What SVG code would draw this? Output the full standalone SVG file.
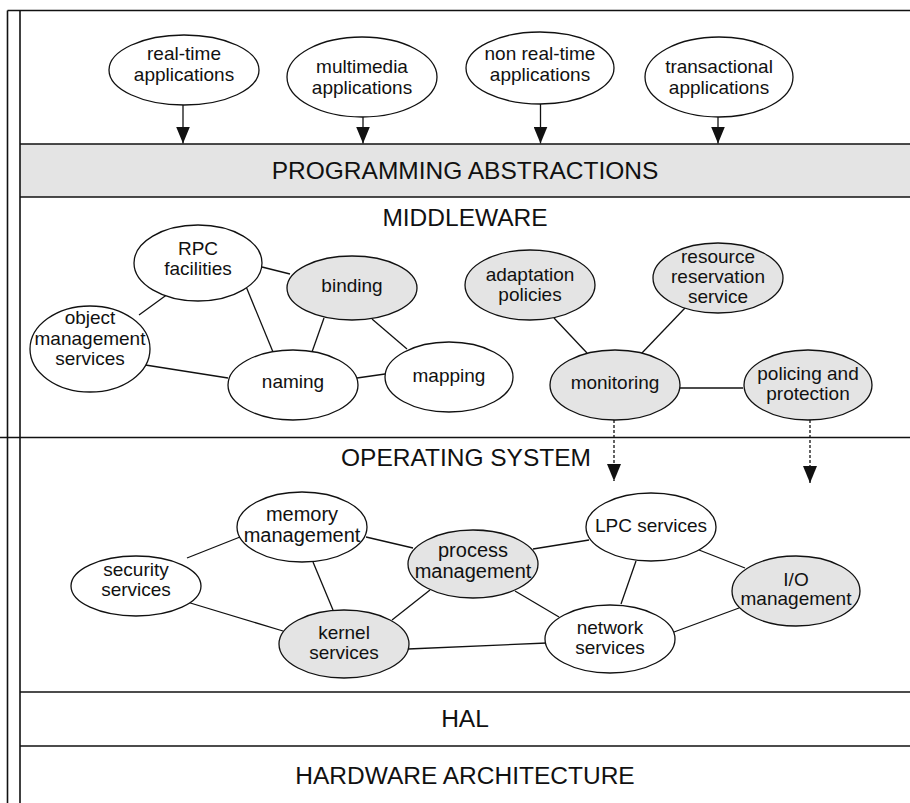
<svg xmlns="http://www.w3.org/2000/svg" width="910" height="803" viewBox="0 0 910 803">
  <style>
    .frame { stroke: #111; stroke-width: 1.6; fill: none; }
    .band { fill: #e4e4e4; }
    .layer { font-family: "Liberation Sans", Arial, sans-serif; font-size: 24.5px; fill: #111; text-anchor: middle; }
    .node ellipse { stroke: #111; stroke-width: 1.3; fill: #fff; }
    .node.hl ellipse { fill: #e4e4e4; }
    .node text { font-family: "Liberation Sans", Arial, sans-serif; font-size: 19px; fill: #111; text-anchor: middle; }
    .node.big text { font-size: 20px; }
    .edge { stroke: #111; stroke-width: 1.3; fill: none; }
    .flow { stroke: #111; stroke-width: 1.3; fill: none; marker-end: url(#head); }
    .flow.dashed { stroke-dasharray: 3 2; }
  </style>
  <defs>
    <marker id="head" markerUnits="userSpaceOnUse" markerWidth="17" markerHeight="14" refX="17" refY="7" orient="auto">
      <path d="M0,0 L17,7 L0,14 z" fill="#111"/>
    </marker>
  </defs>

  <!-- layer stack -->
  <g id="layers">
    <rect class="band" x="20" y="144" width="890" height="53"/>
    <line class="frame" x1="7.5" y1="10.5" x2="7.5" y2="803"/>
    <line class="frame" x1="20" y1="10.5" x2="20" y2="803"/>
    <line class="frame" x1="7.5" y1="10.5" x2="910" y2="10.5"/>
    <line class="frame" x1="20" y1="144" x2="910" y2="144"/>
    <line class="frame" x1="20" y1="197" x2="910" y2="197"/>
    <line class="frame" x1="0" y1="437.5" x2="910" y2="437.5"/>
    <line class="frame" x1="20" y1="692" x2="910" y2="692"/>
    <line class="frame" x1="20" y1="746" x2="910" y2="746"/>
    <text class="layer" x="465" y="179">PROGRAMMING ABSTRACTIONS</text>
    <text class="layer" x="465" y="226">MIDDLEWARE</text>
    <text class="layer" x="466" y="466">OPERATING SYSTEM</text>
    <text class="layer" x="465" y="727">HAL</text>
    <text class="layer" x="465" y="784">HARDWARE ARCHITECTURE</text>
  </g>

  <!-- connectors -->
  <g id="connectors">
    <line class="flow" x1="183" y1="105" x2="183" y2="143.5"/>
    <line class="flow" x1="363" y1="117" x2="363" y2="143.5"/>
    <line class="flow" x1="540.5" y1="104" x2="540.5" y2="143.5"/>
    <line class="flow" x1="718" y1="117" x2="718" y2="143.5"/>

    <line class="edge" x1="172" y1="291" x2="139" y2="315"/>
    <line class="edge" x1="262" y1="267" x2="290" y2="274"/>
    <line class="edge" x1="245" y1="284" x2="273" y2="352"/>
    <line class="edge" x1="324" y1="318" x2="312" y2="352"/>
    <line class="edge" x1="372" y1="319" x2="407" y2="349"/>
    <line class="edge" x1="139" y1="364" x2="228" y2="378"/>
    <line class="edge" x1="357" y1="378" x2="385" y2="374"/>

    <line class="edge" x1="554" y1="318" x2="587" y2="353"/>
    <line class="edge" x1="685" y1="308" x2="641" y2="354"/>
    <line class="edge" x1="679" y1="388" x2="743" y2="388"/>

    <line class="flow dashed" x1="614" y1="420" x2="614" y2="481"/>
    <line class="flow dashed" x1="810" y1="420" x2="810" y2="483"/>

    <line class="edge" x1="187" y1="558" x2="240" y2="537"/>
    <line class="edge" x1="187" y1="602" x2="283" y2="631"/>
    <line class="edge" x1="313" y1="562" x2="333" y2="610"/>
    <line class="edge" x1="366" y1="537" x2="413" y2="548"/>
    <line class="edge" x1="392" y1="620" x2="430" y2="590"/>
    <line class="edge" x1="408" y1="649" x2="547" y2="643"/>
    <line class="edge" x1="533" y1="549" x2="589" y2="540"/>
    <line class="edge" x1="515" y1="591" x2="559" y2="617"/>
    <line class="edge" x1="636" y1="561" x2="621" y2="604"/>
    <line class="edge" x1="699" y1="550" x2="745" y2="568"/>
    <line class="edge" x1="674" y1="632" x2="739" y2="608"/>
  </g>

  <!-- applications -->
  <g id="real-time-applications" class="node">
    <ellipse cx="184" cy="70" rx="75" ry="35"/>
    <text x="184" y="60">real-time</text>
    <text x="184" y="81">applications</text>
  </g>
  <g id="multimedia-applications" class="node">
    <ellipse cx="362" cy="77" rx="75" ry="40"/>
    <text x="362" y="73">multimedia</text>
    <text x="362" y="94">applications</text>
  </g>
  <g id="non-real-time-applications" class="node">
    <ellipse cx="540" cy="68" rx="74" ry="36"/>
    <text x="540" y="60">non real-time</text>
    <text x="540" y="81">applications</text>
  </g>
  <g id="transactional-applications" class="node">
    <ellipse cx="719" cy="77" rx="74" ry="40"/>
    <text x="719" y="73">transactional</text>
    <text x="719" y="94">applications</text>
  </g>

  <!-- middleware services -->
  <g id="rpc-facilities" class="node">
    <ellipse cx="198" cy="263" rx="64" ry="38"/>
    <text x="198" y="255">RPC</text>
    <text x="198" y="275">facilities</text>
  </g>
  <g id="binding" class="node hl">
    <ellipse cx="352" cy="288" rx="65" ry="32"/>
    <text x="352" y="292">binding</text>
  </g>
  <g id="object-management-services" class="node">
    <ellipse cx="90" cy="349" rx="60" ry="43"/>
    <text x="90" y="324">object</text>
    <text x="90" y="344.5">management</text>
    <text x="90" y="365">services</text>
  </g>
  <g id="naming" class="node">
    <ellipse cx="293" cy="385" rx="65" ry="35"/>
    <text x="293" y="388">naming</text>
  </g>
  <g id="mapping" class="node">
    <ellipse cx="449" cy="377" rx="64" ry="35"/>
    <text x="449" y="382">mapping</text>
  </g>
  <g id="adaptation-policies" class="node hl">
    <ellipse cx="530" cy="285" rx="65" ry="35"/>
    <text x="530" y="281">adaptation</text>
    <text x="530" y="301">policies</text>
  </g>
  <g id="resource-reservation-service" class="node hl">
    <ellipse cx="718" cy="278" rx="65" ry="35"/>
    <text x="718" y="263">resource</text>
    <text x="718" y="283">reservation</text>
    <text x="718" y="303">service</text>
  </g>
  <g id="monitoring" class="node hl">
    <ellipse cx="615" cy="385" rx="65" ry="35"/>
    <text x="615" y="389">monitoring</text>
  </g>
  <g id="policing-and-protection" class="node hl">
    <ellipse cx="808" cy="385" rx="64" ry="35"/>
    <text x="808" y="380">policing and</text>
    <text x="808" y="400">protection</text>
  </g>

  <!-- operating system services -->
  <g id="memory-management" class="node big">
    <ellipse cx="302" cy="527" rx="65" ry="35"/>
    <text x="302" y="521">memory</text>
    <text x="302" y="542">management</text>
  </g>
  <g id="security-services" class="node">
    <ellipse cx="136" cy="586" rx="65" ry="30"/>
    <text x="136" y="576">security</text>
    <text x="136" y="596">services</text>
  </g>
  <g id="kernel-services" class="node hl">
    <ellipse cx="344" cy="644" rx="65" ry="34"/>
    <text x="344" y="639">kernel</text>
    <text x="344" y="659">services</text>
  </g>
  <g id="process-management" class="node hl big">
    <ellipse cx="473" cy="564" rx="65" ry="34"/>
    <text x="473" y="557">process</text>
    <text x="473" y="578">management</text>
  </g>
  <g id="lpc-services" class="node">
    <ellipse cx="651" cy="527" rx="65" ry="34"/>
    <text x="651" y="532">LPC services</text>
  </g>
  <g id="io-management" class="node hl">
    <ellipse cx="796" cy="591" rx="64" ry="35"/>
    <text x="796" y="586">I/O</text>
    <text x="796" y="605">management</text>
  </g>
  <g id="network-services" class="node">
    <ellipse cx="610" cy="639" rx="65" ry="34"/>
    <text x="610" y="634">network</text>
    <text x="610" y="654">services</text>
  </g>
</svg>
